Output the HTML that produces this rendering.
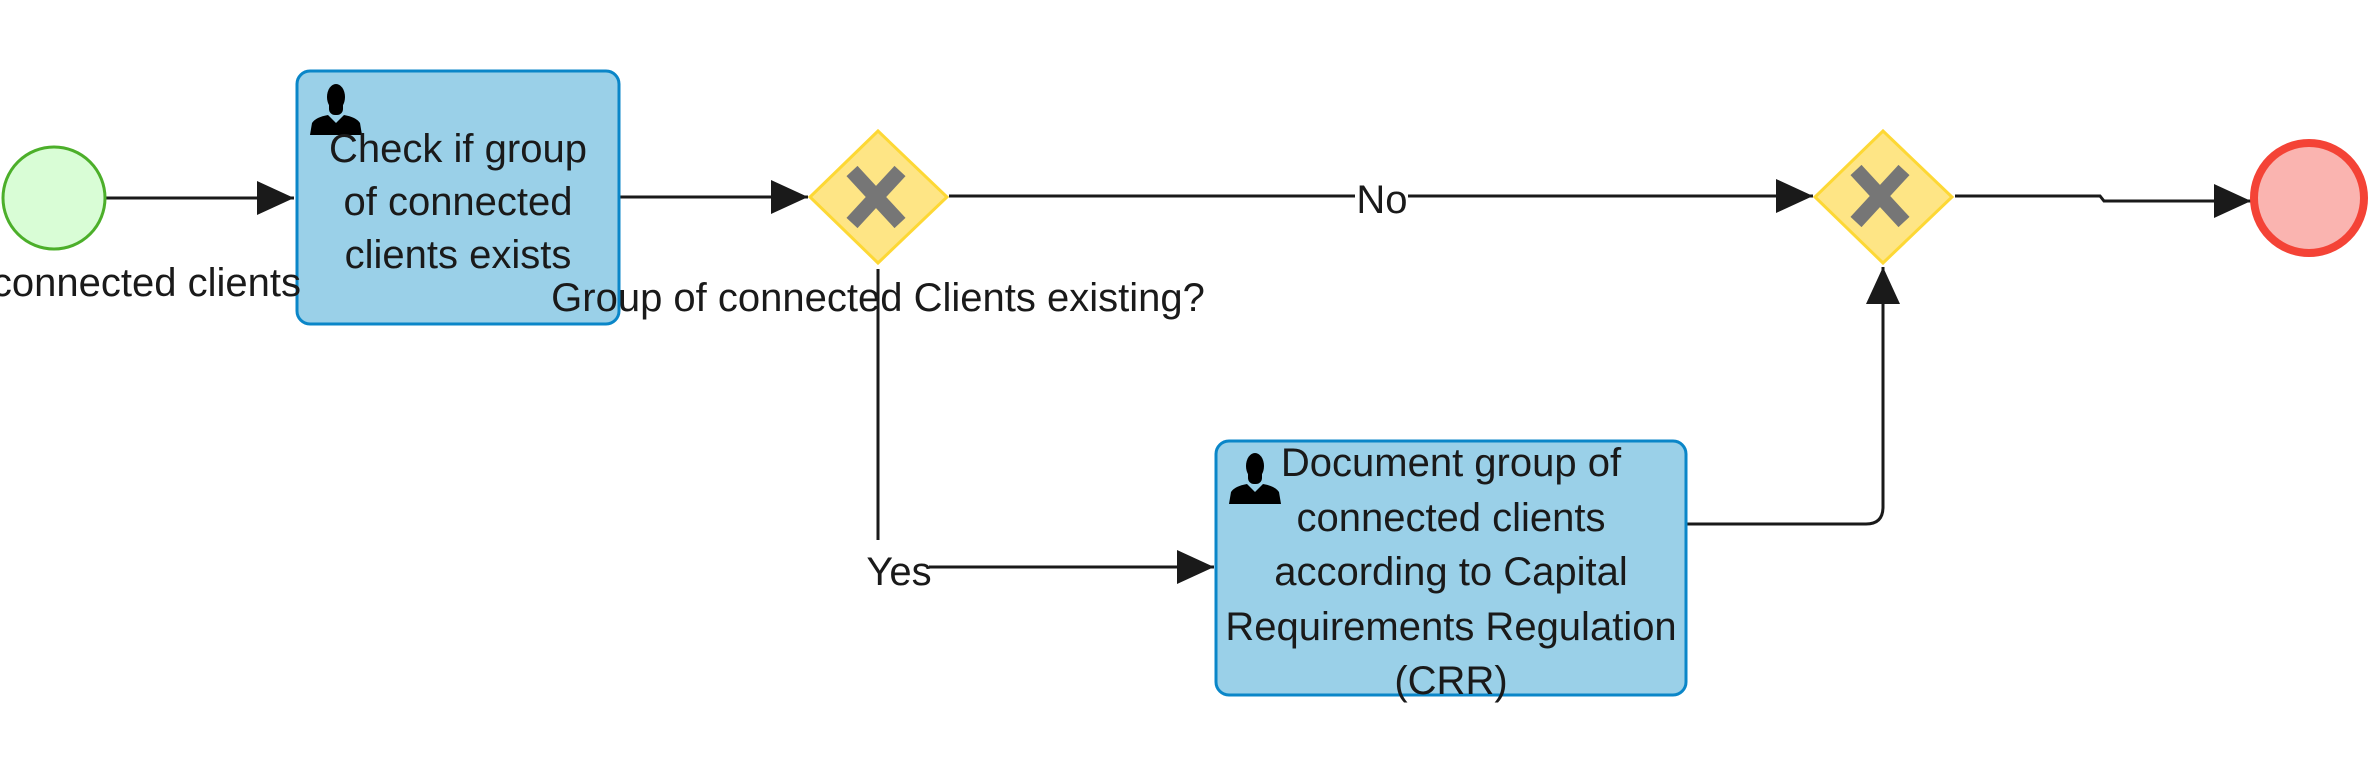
<!DOCTYPE html>
<html><head><meta charset="utf-8"><style>
html,body{margin:0;padding:0;background:#fff;width:2370px;height:765px;overflow:hidden}
svg text{font-family:"Liberation Sans","DejaVu Sans",sans-serif;font-size:40px;fill:#1a1a1a}
</style></head><body>
<svg width="2370" height="765" viewBox="0 0 2370 765" xmlns="http://www.w3.org/2000/svg">
<defs>
<marker id="a" markerWidth="38" markerHeight="36" refX="37" refY="18" orient="auto" markerUnits="userSpaceOnUse">
<path d="M0,1 L37,18 L0,35 Z" fill="#1a1a1a"/></marker>
<g id="user"><ellipse cx="26" cy="14" rx="9" ry="13" fill="#000"/><rect x="19" y="14" width="14" height="18" rx="6" fill="#000"/><path d="M0,52 L2,40 Q6,34 18,32 L26,40 L34,32 Q46,34 50,40 L52,52 Z" fill="#000"/></g>
<g id="x"><path d="M-24,-26 L24,26 M24,-26 L-24,26" stroke="#767676" stroke-width="15"/></g>
</defs>
<g stroke="#1a1a1a" stroke-width="3" fill="none">
<path d="M106,198 H294" marker-end="url(#a)"/>
<path d="M620,197 H808" marker-end="url(#a)"/>
<path d="M949,196 H1355 M1408,196 H1813" marker-end="url(#a)"/>
<path d="M878,269 V540"/>
<path d="M929,567 H1214" marker-end="url(#a)"/>
<path d="M1686,524 H1866 Q1883,524 1883,507 V267" marker-end="url(#a)"/>
<path d="M1955,196 H2100 L2104,201 H2251" marker-end="url(#a)"/>
</g>
<circle cx="54" cy="198" r="51" fill="#d9fdd6" stroke="#4caf2a" stroke-width="3"/>
<circle cx="2309" cy="198" r="55" fill="#fab4b0" stroke="#f44336" stroke-width="8"/>
<rect x="297" y="71" width="322" height="253" rx="13" fill="#9ad0e8" stroke="#0a86c8" stroke-width="3"/>
<rect x="1216" y="441" width="470" height="254" rx="13" fill="#9ad0e8" stroke="#0a86c8" stroke-width="3"/>
<use href="#user" x="310" y="83"/>
<use href="#user" x="1229" y="452"/>
<polygon points="878,131 947,197 878,263 810,197" fill="#fee585" stroke="#fdd835" stroke-width="3"/>
<polygon points="1883,131 1952,197 1883,263 1815,197" fill="#fee585" stroke="#fdd835" stroke-width="3"/>
<use href="#x" x="876" y="197"/>
<use href="#x" x="1880" y="196"/>
<g text-anchor="middle">
<text x="458" y="162">Check if group</text>
<text x="458" y="215">of connected</text>
<text x="458" y="268">clients exists</text>
<text x="1451" y="476">Document group of</text>
<text x="1451" y="531">connected clients</text>
<text x="1451" y="585">according to Capital</text>
<text x="1451" y="640">Requirements Regulation</text>
<text x="1451" y="694">(CRR)</text>
<text x="878" y="311">Group of connected Clients existing?</text>
<text x="1382" y="213">No</text>
<text x="899" y="585">Yes</text>
</g>
<text x="301" y="296" text-anchor="end">Group of connected clients</text>
</svg>
</body></html>
